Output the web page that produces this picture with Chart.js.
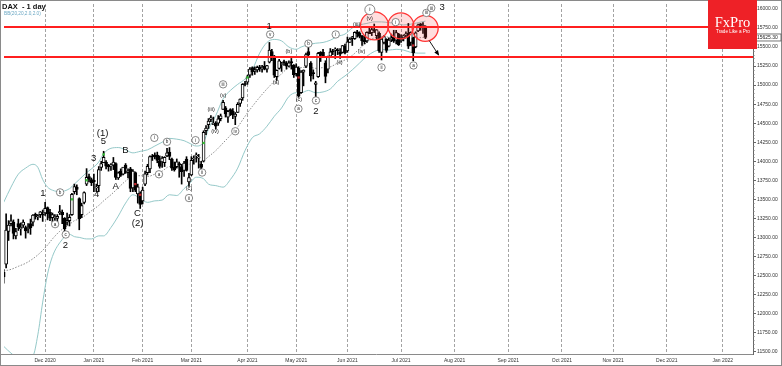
<!DOCTYPE html>
<html><head><meta charset="utf-8">
<script src="https://cdn.jsdelivr.net/npm/chart.js@4.4.0/dist/chart.umd.min.js"></script>
<style>html,body{margin:0;padding:0;background:#fff;overflow:hidden}canvas{display:block}</style>
</head><body>
<canvas id="c" width="782" height="366" style="width:782px;height:366px"></canvas>
<script>
// ---------------- DATA ----------------
const barsBeforeDec2020 = 18; // Nov 5 .. Nov 30 2020
const openP = [
 12400,12540,12650,13080,13180,13200,13020,13180,13110,13160,13130,13110,13180,13200,13300,13270,13300,13300,
 13320,13390,13330,13260,13260,13250,13320,13330,13250,13200,13220,13300,13600,13660,13510,13300,13460,13700,13800,13760,
 13750,13650,13680,13920,13980,13990,13950,13940,13950,13970,13780,13870,13830,13950,13850,13900,13650,13850,13570,13580,
 13480,13700,13850,13900,14070,14080,14080,14000,13990,13980,14070,14120,14030,13920,13930,13970,13930,13880,14030,13730,
 13820,14030,14070,14040,13960,14000,14400,14480,14550,14480,14500,14500,14560,14680,14700,14580,14680,14660,14590,14640,14760,14830,15010,
 15040,15130,15230,15180,15200,15240,15210,15250,15210,15300,15440,15380,15110,15220,15270,15310,15290,15250,15310,15260,
 15150,15220,14900,15170,15250,15440,15290,15160,15010,15110,15430,15430,15290,15210,15380,15440,15460,15460,15430,15430,15510,
 15450,15560,15610,15610,15700,15680,15650,15590,15580,15700,15690,15730,15650,15680,15430,15560,15600,15510,15600,15630,15590,15670,
 15580,15620,15660,15680,15560,15620,15500,15710,15800,15760,15770];
const highP = [
 12620,12580,13309,13220,13297,13230,13120,13240,13190,13230,13150,13180,13240,13300,13320,13300,13340,13360,
 13460,13400,13370,13320,13300,13300,13420,13360,13260,13320,13300,13580,13700,13690,13520,13450,13600,13903,13830,13780,
 13830,13700,13930,14000,14131,14010,13960,13970,14050,13980,13860,13900,13920,13970,13900,13920,13890,13860,13700,13600,
 13660,13870,13960,14070,14090,14110,14120,14070,14060,14060,14170,14180,14040,13990,14030,13990,13960,14000,14060,13840,
 14060,14070,14110,14090,14000,14400,14470,14560,14600,14580,14520,14600,14620,14800,14720,14670,14690,14690,14640,14770,14820,15020,15050,
 15130,15230,15240,15240,15250,15260,15260,15310,15260,15560,15470,15390,15200,15340,15300,15330,15310,15320,15350,15270,
 15280,15240,15190,15200,15420,15501,15310,15200,15050,15430,15440,15470,15320,15380,15480,15470,15490,15480,15480,15520,15540,
 15630,15620,15640,15700,15720,15700,15650,15640,15700,15770,15760,15802,15730,15700,15610,15650,15610,15620,15670,15720,15720,15680,
 15660,15660,15700,15810,15700,15630,15700,15800,15810,15820,15780];
const lowP = [
 12350,12400,12600,12960,13150,12980,12980,13090,13030,13130,12990,13060,13040,13150,13240,13230,13260,13210,
 13290,13230,13220,13200,13180,13160,13300,13180,13050,13160,13150,13290,13570,13560,13100,13260,13440,13680,13730,13680,
 13600,13600,13600,13880,13980,13900,13870,13880,13890,13760,13760,13800,13820,13840,13780,13600,13600,13600,13450,13380,
 13440,13680,13820,13850,14010,14030,13980,13910,13920,13930,14060,14020,13880,13870,13910,13790,13700,13800,13870,13670,
 13810,13960,13990,13910,13810,13990,14350,14430,14520,14480,14420,14470,14530,14680,14580,14510,14600,14560,14480,14640,14720,14800,14990,
 15010,15100,15130,15140,15170,15180,15170,15200,15170,15290,15320,15100,15060,15210,15180,15260,15210,15240,15210,15100,
 15120,14840,14890,14990,15230,15370,15050,15080,14816,15100,15310,15370,15030,15160,15360,15400,15350,15400,15350,15420,15410,
 15430,15560,15520,15600,15630,15620,15520,15540,15560,15680,15650,15690,15600,15430,15330,15540,15430,15500,15570,15560,15540,15520,
 15560,15580,15630,15480,15520,15320,15490,15700,15720,15680,15610];
const closeP = [
 12568,12480,13096,13163,13216,13052,13077,13138,13133,13201,13086,13137,13127,13292,13290,13286,13335,13291,
 13382,13313,13252,13298,13271,13278,13340,13296,13114,13223,13263,13565,13667,13630,13246,13418,13587,13790,13761,13719,
 13727,13651,13892,13968,14050,13937,13925,13940,13988,13788,13848,13815,13922,13907,13874,13643,13871,13620,13665,13433,
 13622,13835,13933,14060,14057,14059,14012,13933,14040,14050,14109,14064,13909,13887,13993,13950,13864,13976,13879,13786,
 14012,14039,14080,14056,13920,14380,14437,14528,14569,14502,14461,14557,14596,14775,14621,14657,14662,14610,14621,14749,14818,15009,15008,
 15107,15212,15176,15203,15234,15215,15234,15209,15255,15459,15368,15130,15195,15320,15280,15296,15249,15292,15290,15136,
 15236,14856,15170,15197,15400,15400,15119,15150,15031,15416,15397,15386,15113,15370,15438,15437,15465,15451,15407,15520,15421,
 15568,15603,15633,15693,15677,15640,15581,15571,15693,15674,15729,15710,15727,15448,15604,15637,15456,15590,15608,15577,15690,15531,
 15604,15650,15661,15511,15692,15421,15688,15790,15790,15789,15625.30];

const bandBars   = [-17,-14,-11,-8,-5,-3,-1,1,3,6,10,12,14,17,19,22,24,27,30,33,36,39,42,45,48,51,54,57,59,62,65,67,70,73,76,79,82,85,88,91,94,97,100,103,105,108,111,114,117,120,123,126,129,132,135,138,141,144,147,150,153,156];
const bandUpper  = [13460,13660,13830,13910,13960,13920,13760,13660,13620,13600,13640,13700,13760,13850,13900,13990,14100,14170,14180,14150,14110,14130,14150,14200,14250,14300,14290,14270,14240,14200,14250,14420,14600,14820,14930,15010,15080,15200,15420,15560,15600,15580,15500,15470,15500,15530,15550,15560,15590,15640,15670,15750,15790,15810,15830,15830,15820,15810,15790,15800,15820,15840];
const bandMiddle = [12560,12580,12620,12660,12720,12770,12830,12900,12980,13080,13170,13220,13240,13300,13350,13420,13480,13560,13650,13740,13800,13810,13800,13830,13870,13930,13920,13950,13960,13990,14010,14060,14140,14240,14340,14450,14590,14720,14840,14950,15050,15150,15230,15250,15230,15240,15220,15230,15240,15290,15330,15390,15480,15560,15620,15640,15630,15630,15615,15610,15620,15630];
const bandLower  = [11570,11480,11420,11430,11450,11720,12150,12520,12750,12930,13040,13010,13000,12980,12980,13020,13020,13130,13280,13450,13560,13510,13460,13480,13490,13560,13550,13640,13700,13790,13770,13700,13680,13660,13760,13910,14140,14310,14360,14460,14590,14700,14850,14900,14900,14930,14900,14910,14950,15050,15120,15200,15290,15380,15440,15470,15460,15470,15460,15430,15420,15420];

// Signal markers on candles
const greenSignalBars = [11,17,24,65,83];
const greenSignalPrices = [13500,13750,14090,14240,15100];
const redSignalBars = [37,39,104,151];
const redSignalPrices = [13700,13560,15100,15520];

// Axis
const monthLabels = ['Dec 2020','Jan 2021','Feb 2021','Mar 2021','Apr 2021','May 2021','Jun 2021','Jul 2021','Aug 2021','Sep 2021','Oct 2021','Nov 2021','Dec 2021','Jan 2022'];
const monthBars = [20,20,20,23,20,21,22,22,22,22,21,22,23]; // trading bars per month
const priceTicks = [11500,11750,12000,12250,12500,12750,13000,13250,13500,13750,14000,14250,14500,14750,15000,15250,15500,15750,16000];

// Levels and annotations
const levels = [15765, 15365];
const lastPrice = 15625.30;
const circleBars = [135.1, 145.9, 155.9];
const circlePrices = [15779, 15779, 15746];
const arrowFrom = [157.6, 15583];
const arrowTo = [161.3, 15401];
const waveLabels = [
 ['1',-0.94,13578,'big'],['2',8.34,12901,'big'],['3',19.9,14034,'big'],['4',21.1,13565,'big'],
 ['5',23.86,14255,'big'],['(1)',23.6,14372,'big'],['A',28.9,13669,'big'],['B',32.97,14138,'big'],
 ['C',37.9,13318,'big'],['(2)',37.9,13187,'big'],['1',91.9,15766,'big'],['2',111.1,14659,'big'],['3',162.9,16026,'big'],
 ['(a)',94.7,15036,'par'],['(b)',99.98,15440,'par'],['(c)',104.1,14815,'par'],['(ii)',120.8,15297,'par'],
 ['(iii)',127.8,15792,'par'],['(iv)',129.8,15440,'par'],['(v)',133.1,15870,'par'],['(iii)',68.1,14685,'par'],
 ['(iv)',69.7,14385,'par'],['(v)',73.0,14867,'par'],['(c)',59,13643,'par'],
 ['a',4.09,13174,'circ'],['b',6.13,13591,'circ'],['c',8.46,13038,'circ'],['i',44.8,14307,'circ'],
 ['a',46.7,13829,'circ'],['b',50.0,14255,'circ'],['ii',59.0,13517,'circ'],['i',61.7,14277,'circ'],
 ['ii',64.4,13852,'circ'],['iii',73.0,15010,'circ'],['iv',78.0,14394,'circ'],['v',92.3,15665,'circ'],
 ['a',103.9,14689,'circ'],['b',108.0,15544,'circ'],['c',111.1,14798,'circ'],['i',119.2,15665,'circ'],
 ['i',133.2,15991,'circL'],['ii',138.0,15232,'circ'],['i',143.8,15827,'circ'],['a',151.1,15258,'circ'],
 ['iii',156.4,15948,'circ'],['iii',158.4,16013,'circ']
];

// ---------------- BUILD ----------------
const FONT = '"Liberation Sans", Arial, sans-serif';
const barNo = i => i - barsBeforeDec2020;
const wickPts = highP.map((h,i)=>({x:barNo(i), y:[lowP[i], h]}));
const bodyPts = openP.map((o,i)=>({x:barNo(i), y:[o, closeP[i]]}));
const bodyColors = openP.map((o,i)=> closeP[i] >= o ? '#ffffff' : '#000000');
const mkPts = (xs, ys) => xs.map((x,i)=>({x, y:ys[i]}));
const monthTicks = [0]; monthBars.forEach(n => monthTicks.push(monthTicks[monthTicks.length-1]+n));

const X_MIN = -16.874, X_MAX = 290.38;
const Y_MIN = 11468.75, Y_MAX = 16065;

const annot = {
 id:'annot',
 beforeDraw(chart){
  const c = chart.ctx; c.save(); c.fillStyle='#fff'; c.fillRect(0,0,chart.width,chart.height); c.restore();
 },
 afterDatasetsDraw(chart){
  const c = chart.ctx, X = chart.scales.x, Y = chart.scales.y, a = chart.chartArea;
  const px = v => X.getPixelForValue(v), py = v => Y.getPixelForValue(v);
  c.save();
  c.beginPath(); c.rect(a.left, a.top, a.right-a.left, a.bottom-a.top); c.clip();
  const radii = [14,13,13];
  circleBars.forEach((b,i)=>{
   c.beginPath(); c.arc(px(b), py(circlePrices[i]), radii[i], 0, Math.PI*2);
   c.fillStyle='rgba(255,70,70,0.18)'; c.fill();
  });
  c.strokeStyle='#ff1f1f'; c.lineWidth=2;
  levels.forEach(l=>{ const y=Math.round(py(l)); c.beginPath(); c.moveTo(a.left,y); c.lineTo(a.right,y); c.stroke(); });
  c.strokeStyle='#ff3535'; c.lineWidth=1.3;
  circleBars.forEach((b,i)=>{ c.beginPath(); c.arc(px(b), py(circlePrices[i]), radii[i], 0, Math.PI*2); c.stroke(); });
  const x1=px(arrowFrom[0]), y1=py(arrowFrom[1]), x2=px(arrowTo[0]), y2=py(arrowTo[1]);
  c.strokeStyle='#000'; c.lineWidth=0.9; c.beginPath(); c.moveTo(x1,y1); c.lineTo(x2,y2); c.stroke();
  const ang=Math.atan2(y2-y1,x2-x1);
  c.fillStyle='#000'; c.beginPath(); c.moveTo(x2+1.5*Math.cos(ang),y2+1.5*Math.sin(ang));
  c.lineTo(x2-4*Math.cos(ang)+2.2*Math.sin(ang), y2-4*Math.sin(ang)-2.2*Math.cos(ang));
  c.lineTo(x2-4*Math.cos(ang)-2.2*Math.sin(ang), y2-4*Math.sin(ang)+2.2*Math.cos(ang));
  c.closePath(); c.fill();
  c.textAlign='center'; c.textBaseline='middle';
  waveLabels.forEach(([t,b,p,k])=>{
   const x=px(b), y=py(p);
   if(k==='big'){ c.fillStyle='#111'; c.font='9.5px '+FONT; c.fillText(t,x,y); }
   else if(k==='par'){ c.fillStyle='#222'; c.font='5.5px '+FONT; c.fillText(t,x,y); }
   else {
    const r = k==='circL'?5:3.7;
    c.beginPath(); c.arc(x,y,r,0,Math.PI*2); c.fillStyle='#fff'; c.fill();
    c.strokeStyle='#555'; c.lineWidth=0.7; c.stroke();
    c.fillStyle='#222'; c.font=(k==='circL'?'5.5px ':'4.6px ')+FONT; c.fillText(t,x,y+0.3);
   }
  });
  c.restore();
 },
 afterDraw(chart){
  const c = chart.ctx, Y = chart.scales.y, a = chart.chartArea;
  c.save();
  c.strokeStyle='#8a8a8a'; c.lineWidth=1;
  c.strokeRect(0.5,0.5,chart.width-1,chart.height-1);
  c.beginPath(); c.moveTo(0, Math.round(a.bottom)+0.5); c.lineTo(a.right, Math.round(a.bottom)+0.5); c.stroke();
  c.strokeStyle='#777';
  for(let v=11500; v<=16050; v+=50){
   if(v%250===0) continue;
   const y=Math.round(Y.getPixelForValue(v))+0.5;
   c.beginPath(); c.moveTo(a.right,y); c.lineTo(a.right+1.5,y); c.stroke();
  }
  const yp = Y.getPixelForValue(lastPrice);
  c.fillStyle='#fff'; c.fillRect(a.right+2, yp-3.5, 26, 7);
  c.strokeStyle='#555'; c.lineWidth=0.8; c.strokeRect(a.right+2.5, yp-3.5, 25.5, 7);
  c.fillStyle='#222'; c.font='5px '+FONT; c.textAlign='left'; c.textBaseline='middle';
  c.fillText(lastPrice.toFixed(2), a.right+4, yp+0.3);
  c.textBaseline='alphabetic';
  c.fillStyle='#111'; c.font='bold 7.5px '+FONT; c.fillText('DAX  - 1 day', 2, 8.5);
  c.fillStyle='#6aa7c3'; c.font='4.7px '+FONT; c.fillText('BB(20,20,2.0,2.0)', 4, 15);
  c.fillStyle='#ee2127'; c.fillRect(708,0,49,49);
  c.fillStyle='#fff'; c.textAlign='center';
  c.font='14.5px "Liberation Serif", "Times New Roman", serif'; c.fillText('FxPro', 732.5, 27);
  c.font='4.6px '+FONT; c.fillText('Trade Like a Pro', 733, 32.5);
  c.restore();
 }
};

new Chart(document.getElementById('c'), {
 type:'bar',
 data:{datasets:[
  {type:'line', data:mkPts(bandBars,bandUpper), borderColor:'#95c9c9', borderWidth:1, pointRadius:0, cubicInterpolationMode:'monotone', order:6},
  {type:'line', data:mkPts(bandBars,bandLower), borderColor:'#95c9c9', borderWidth:1, pointRadius:0, cubicInterpolationMode:'monotone', order:6},
  {type:'line', data:mkPts(bandBars,bandMiddle), borderColor:'#8d8d8d', borderWidth:1, borderDash:[1.5,1.5], pointRadius:0, cubicInterpolationMode:'monotone', order:6},
  {type:'bar', data:wickPts, backgroundColor:'#000', barThickness:1, grouped:false, order:4},
  {type:'bar', data:bodyPts, backgroundColor:bodyColors, borderColor:'#000', borderWidth:1, borderSkipped:false, barThickness:3, grouped:false, minBarLength:1, order:3},
  {type:'line', data:mkPts(greenSignalBars,greenSignalPrices), showLine:false, pointStyle:'rect', pointRadius:1.6, pointBackgroundColor:'#33c233', pointBorderWidth:0, order:1},
  {type:'line', data:mkPts(redSignalBars,redSignalPrices), showLine:false, pointStyle:'rect', pointRadius:1.6, pointBackgroundColor:'#c8282d', pointBorderWidth:0, order:1}
 ]},
 options:{
  responsive:false, animation:false, devicePixelRatio:1, events:[],
  layout:{padding:{left:1, top:1, right:1, bottom:1}},
  plugins:{legend:{display:false}, tooltip:{enabled:false}},
  scales:{
   x:{type:'linear', min:X_MIN, max:X_MAX, offset:false,
      afterBuildTicks: s => { s.ticks = monthTicks.map(v=>({value:v})); },
      afterFit: s => { s.height = 11; },
      ticks:{autoSkip:false, maxRotation:0, padding:4, color:'#333', font:{size:5, family:FONT}, callback:(v,i)=>monthLabels[i]},
      grid:{offset:false, color:'#a3a3a3', lineWidth:1, drawTicks:false},
      border:{display:false, dash:[3,2]}
   },
   y:{type:'linear', position:'right', min:Y_MIN, max:Y_MAX,
      afterBuildTicks: s => { s.ticks = priceTicks.map(v=>({value:v})); },
      afterFit: s => { s.width = 28; },
      ticks:{padding:1, color:'#333', font:{size:5, family:FONT}, callback:v=>Number(v).toFixed(2)},
      grid:{offset:false, display:true, drawOnChartArea:false, drawTicks:true, tickLength:3, color:'#666'},
      border:{display:true, color:'#666'}
   }
  }
 },
 plugins:[annot]
});
</script>
</body></html>
